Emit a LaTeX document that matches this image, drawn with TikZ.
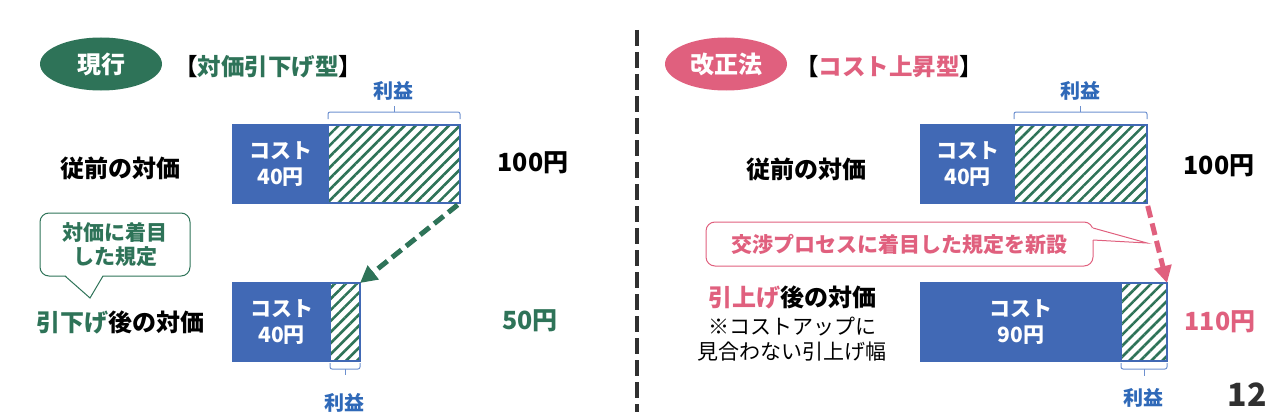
\documentclass[tikz,border=0pt]{standalone}
\usepackage{fontspec}
\setmainfont{Noto Sans CJK JP}
\usetikzlibrary{positioning,shapes.geometric,patterns.meta,arrows.meta}

\definecolor{keepgreen}{HTML}{2E7358}
\definecolor{newpink}{HTML}{E0607E}
\definecolor{barblue}{HTML}{4169B5}
\definecolor{gainblue}{HTML}{2F69B8}
\definecolor{bracketblue}{HTML}{6D90CF}
\definecolor{hatch}{HTML}{2E7358}
\definecolor{pagegray}{HTML}{303030}

\newcommand{\fs}[1]{\fontsize{#1}{#1}\selectfont}

\tikzset{
  tag/.style={ellipse,minimum width=122pt,minimum height=53pt,text=white,
    font=\fs{24}\bfseries},
  title/.style={anchor=west,font=\fs{23.5}\bfseries},
  rowlabel/.style={font=\fs{24}\bfseries},
  price/.style={font=\fs{25}\bfseries},
  costbar/.style={anchor=north west,fill=barblue,draw=barblue,line width=1.5pt,
    minimum height=78pt,text=white,align=center,font=\fontsize{21}{26}\selectfont\bfseries},
  profbar/.style={anchor=west,draw=barblue,line width=1.5pt,minimum height=78pt,
    pattern={Lines[angle=45,distance=7.8pt,line width=2.6pt]},pattern color=hatch},
  gain/.style={text=gainblue,font=\fs{20}\bfseries},
  bracket/.style={draw=bracketblue,line width=1pt,rounded corners=2pt},
  note/.style={draw,line width=1pt,rounded corners=9pt,align=center,
    font=\fontsize{21}{24}\selectfont\bfseries},
  hop/.style={line width=5pt,dash pattern=on 12pt off 6pt,
    -{Triangle[length=17pt,width=17pt]}},
}

\begin{document}
\begin{tikzpicture}[x=1pt,y=-1pt,every node/.style={inner sep=0pt,outer sep=0pt}]
\useasboundingbox (0,0) rectangle (1280,420);

% divider
\draw[pagegray,line width=4.5pt,dash pattern=on 16pt off 6pt] (637,30) -- (637,412);

% left: current
\node[tag,fill=keepgreen] (tagA) at (101,64) {現行};
\node[title] (ttlA) at (174,67) {【\textcolor{keepgreen}{対価引下げ型}】};

\node[rowlabel] (rowA) at (120,168) {従前の対価};
\node[costbar,minimum width=95pt] (costA) at (233,125) {コスト\\40円};
\node[profbar,minimum width=132pt] (profA) at (costA.east) {};
\node[price] (priceA) at (533,163) {100円};
\draw[bracket] ([yshift=6pt]profA.north west) -- ++(0,-7) -| ([yshift=6pt]profA.north east);
\draw[bracket] ([yshift=13pt]profA.north) -- ++(0,-6);
\node[gain] (gainA) at (393,91) {利益};

\node[note,draw=keepgreen,text=keepgreen,minimum width=150pt,minimum height=63pt] (noteL) at (115,244.5) {対価に着目\\した規定};
\fill[white] ([xshift=-50pt,yshift=1pt]noteL.south) -- ([shift={(-25,22)}]noteL.south) -- ([xshift=-12pt,yshift=1pt]noteL.south) -- cycle;
\draw[keepgreen,line width=1pt] ([xshift=-50pt]noteL.south) -- ([shift={(-25,22)}]noteL.south) -- ([xshift=-12pt]noteL.south);

\node[rowlabel] (rowB) at (120,322) {\textcolor{keepgreen}{引下げ}後の対価};
\node[costbar,minimum width=97pt] (costB) at (233,283) {コスト\\40円};
\node[profbar,minimum width=30pt] (profB) at (costB.east) {};
\node[price,text=keepgreen] (priceB) at (530,321) {50円};
\draw[bracket] ([yshift=-2pt]profB.south west) -- ++(0,6) -| ([yshift=-2pt]profB.south east);
\draw[bracket] ([yshift=-8pt]profB.south) -- ++(0,6);
\node[gain] (gainB) at (344,403) {利益};

\draw[hop,keepgreen,shorten <=3pt] (profA.south east) -- (profB.north east);

% right: revised law
\node[tag,fill=newpink] (tagC) at (726,64) {改正法};
\node[title] (ttlC) at (795,67) {【\textcolor{newpink}{コスト上昇型}】};

\node[rowlabel] (rowC) at (806,169) {従前の対価};
\node[costbar,minimum width=93pt] (costC) at (921,125) {コスト\\40円};
\node[profbar,minimum width=133pt] (profC) at (costC.east) {};
\node[price] (priceC) at (1219,166) {100円};
\draw[bracket] ([yshift=6pt]profC.north west) -- ++(0,-7) -| ([yshift=6pt]profC.north east);
\draw[bracket] ([yshift=13pt]profC.north) -- ++(0,-6);
\node[gain] (gainC) at (1080,91) {利益};

\node[note,draw=newpink,text=newpink,minimum width=387pt,minimum height=44pt] (noteR) at (899.5,244) {交渉プロセスに着目した規定を新設};
\fill[white] ([shift={(-1,-16)}]noteR.east) -- ([shift={(54,-1)}]noteR.east) -- ([shift={(-1,-4)}]noteR.east) -- cycle;
\draw[newpink,line width=1pt] ([shift={(0,-16)}]noteR.east) -- ([shift={(54,-1)}]noteR.east) -- ([shift={(0,-4)}]noteR.east);

\node[rowlabel] (rowD) at (792,297) {\textcolor{newpink}{引上げ}後の対価};
\node[font=\fontsize{21}{25}\selectfont,align=center,below=8pt of rowD] (remD) {※コストアップに\\見合わない引上げ幅};
\node[costbar,minimum width=200pt] (costD) at (921,283) {コスト\\90円};
\node[profbar,minimum width=46pt] (profD) at (costD.east) {};
\node[price,text=newpink] (priceD) at (1220,322) {110円};
\draw[bracket] ([yshift=-2pt]profD.south west) -- ++(0,6) -| ([yshift=-2pt]profD.south east);
\draw[bracket] ([yshift=-8pt]profD.south) -- ++(0,7);
\node[gain] (gainD) at (1143,398) {利益};

\draw[hop,newpink,shorten <=3pt] (profC.south east) -- (profD.north east);

\node[font=\fs{32}\bfseries,text=pagegray] (page) at (1247,395) {12};
\end{tikzpicture}
\end{document}
